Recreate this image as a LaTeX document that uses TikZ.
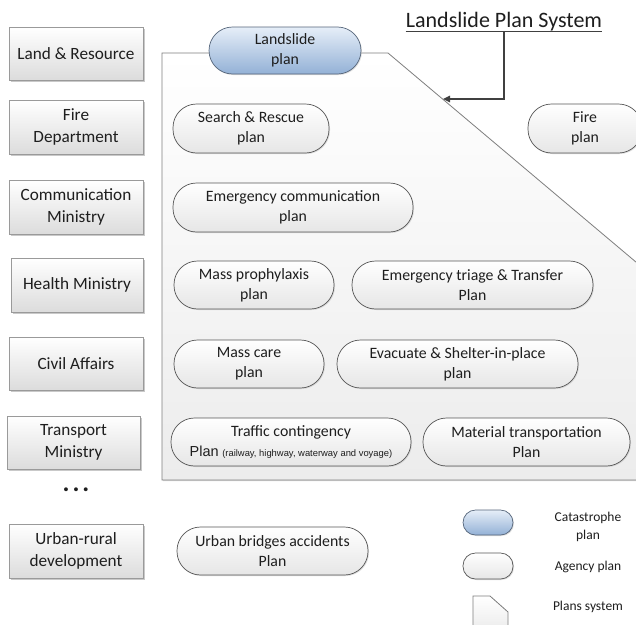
\documentclass[tikz,border=0pt]{standalone}
\usepackage{fontspec}
\setmainfont{Carlito}
\newfontfamily\arialf{Liberation Sans}
\usetikzlibrary{shadows,arrows.meta}
\definecolor{boxline}{HTML}{9A9A9A}
\definecolor{boxbot}{HTML}{DCDCDC}
\definecolor{pillline}{HTML}{555555}
\definecolor{pillbot}{HTML}{E6E6E6}
\definecolor{bluetop}{HTML}{E6EEF8}
\definecolor{bluebot}{HTML}{93B1D6}
\definecolor{blueline}{HTML}{55657A}
\definecolor{sysline}{HTML}{7F7F7F}
\definecolor{sysbot}{HTML}{ECECEC}
\definecolor{textc}{HTML}{1E1E1E}
\definecolor{arrowc}{HTML}{404040}
\begin{document}
\begin{tikzpicture}[x=1pt,y=-1pt,
  wh/.style 2 args={minimum width=#1pt,minimum height=#2pt},
  dept/.style={draw=boxline, line width=0.8pt, top color=white, bottom color=boxbot,
    drop shadow={shadow xshift=1.6pt, shadow yshift=-1.6pt, fill=black!35, opacity=0.6},
    align=center, inner sep=0pt, text=textc, font=\fontsize{17.2}{21.5}\selectfont},
  pill/.style={draw=pillline, line width=0.7pt, rounded corners=23.5pt, top color=white, bottom color=pillbot,
    drop shadow={shadow xshift=1pt, shadow yshift=-1pt, fill=black!25, opacity=0.5},
    align=center, inner sep=0pt, text=textc, font=\fontsize{15.8}{20}\selectfont},
  catas/.style={pill, draw=blueline, top color=bluetop, bottom color=bluebot},
  legpill/.style={rounded corners=12.5pt},
  legtext/.style={align=center, inner sep=0pt, text=textc, font=\fontsize{13.5}{18}\selectfont},
  sysshape/.style={draw=sysline, line width=0.8pt, top color=white, bottom color=sysbot}
]
\clip (0,0) rectangle (636,624);
\fill[white] (0,0) rectangle (636,624);

% plans system shape
\fill[black!15] (163.2,54.2) -- (389.2,54.2) -- (663.2,285.2) -- (663.2,481.2) -- (163.2,481.2) -- cycle;
\draw[sysshape] (162,53) -- (388,53) -- (662,284) -- (662,480) -- (162,480) -- cycle;

% departments
\node[dept, wh={134}{53}] (land) at (76,53.5) {Land \& Resource};
\node[dept, wh={134}{54}] (fired) at (76,127) {Fire\\Department};
\node[dept, wh={134}{54}] (comm) at (76,207) {Communication\\Ministry};
\node[dept, wh={132}{54}] (health) at (77,285) {Health Ministry};
\node[dept, wh={134}{53}] (civil) at (76,363.5) {Civil Affairs};
\node[dept, wh={133}{53}] (transp) at (73.5,442.5) {Transport\\Ministry};
\node[inner sep=0pt, text=textc, font=\fontsize{26}{26}\bfseries] (dots) at (76,490) {.\hspace{3pt}.\hspace{3pt}.};
\node[dept, wh={134}{54}] (urban) at (76,551) {Urban-rural\\development};

% plans
\node[catas, wh={152}{47}] (landslide) at (285,50.5) {Landslide\\plan};
\node[pill, wh={156}{49}] (search) at (251,128.5) {Search \& Rescue\\plan};
\node[pill, wh={114}{49}] (fire) at (585,128.5) {Fire\\plan};
\node[pill, wh={240}{49}] (ecomm) at (293,207.5) {Emergency communication\\plan};
\node[pill, wh={160}{48}] (prophy) at (254,285) {Mass prophylaxis\\plan};
\node[pill, wh={241}{48}] (triage) at (472.5,285) {Emergency triage \& Transfer\\Plan};
\node[pill, wh={150}{48}] (care) at (249,364) {Mass care\\plan};
\node[pill, wh={241}{48}] (evac) at (457.5,364) {Evacuate \& Shelter-in-place\\plan};
\node[pill, wh={240}{48}] (traffic) at (291,442) {Traffic contingency\\{\arialf\fontsize{14.5}{20}\selectfont Plan} {\arialf\fontsize{9.4}{20}\selectfont (railway, highway, waterway and voyage)}};
\node[pill, wh={207}{48}] (material) at (526.5,442) {Material transportation\\Plan};
\node[pill, wh={191}{48}] (bridges) at (272.5,551) {Urban bridges accidents\\Plan};

% title and arrow
\node[anchor=base, inner sep=0pt, text=textc, font=\fontsize{22}{24}\selectfont] (title) at (504,27.5) {Landslide Plan System};
\draw[line width=0.9pt, color=arrowc] (title.south west) -- (title.south east);
\coordinate (tip) at (443,99);
\draw[line width=1.3pt, color=arrowc, -{Triangle[length=7pt,width=6.5pt]}] (title.south) |- (tip);

% legend
\node[catas, legpill, wh={50}{25}] (lcat) at (488,522.5) {};
\node[pill, legpill, wh={50}{26}] (lag) at (488,566) {};
\draw[sysshape] (473,596) -- (490,596) -- (508,612) -- (508,630) -- (473,630) -- cycle;
\node[legtext] (tcat) at (588,527) {Catastrophe\\plan};
\node[legtext] (tag) at (588,567) {Agency plan};
\node[legtext] (tsys) at (588,607) {Plans system};
\end{tikzpicture}
\end{document}
